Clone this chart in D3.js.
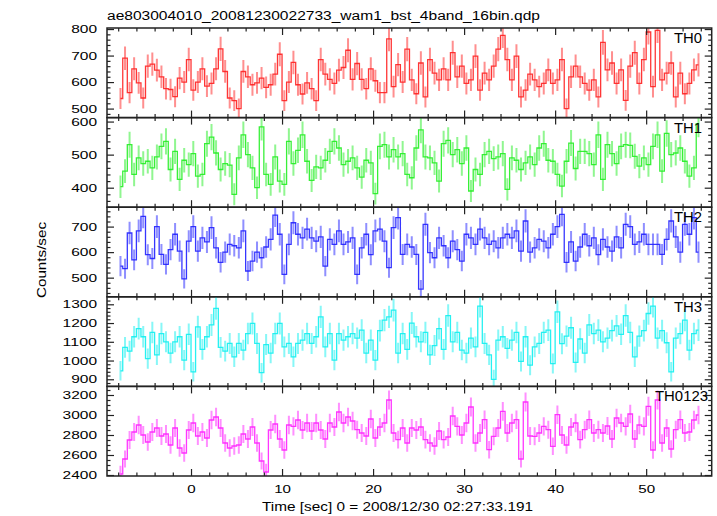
<!DOCTYPE html>
<html><head><meta charset="utf-8">
<script src="https://cdn.jsdelivr.net/npm/d3@7"></script>
<style>body{margin:0;background:#fff} svg{display:block}</style>
</head><body><svg id="c" width="717" height="516"></svg>
<script>
const title = "ae803004010_20081230022733_wam1_bst_4band_16bin.qdp";
const xLabel = "Time [sec] 0 = 2008/12/30 02:27:33.191";
const yLabel = "Counts/sec";
const tStart = -7.75, binWidth = 0.5;
const bandNames = ["TH0", "TH1", "TH2", "TH3", "TH0123"];
const bandColors = ["#ff2020", "#22ee22", "#2020ff", "#10f0f0", "#ff20ff"];

const th0 = [538,690,560,650,597,540,660,668,645,620,575,572,545,615,600,685,570,600,650,585,595,650,725,640,540,530,500,640,620,590,
597,615,580,590,630,705,530,600,674,590,555,597,575,530,685,630,610,595,645,655,720,610,670,
610,575,650,605,560,560,763,583,666,600,724,608,556,672,544,685,634,608,650,608,711,620,660,595,608,698,570,634,608,660,724,776,685,608,698,544,570,630,608,583,595,646,595,608,685,500,620,660,620,595,570,608,544,750,646,672,595,646,531,660,711,595,685,789,583,795,608,634,672,544,634,556,595,646,665];
const th1 = [403,450,530,440,490,473,480,460,493,525,540,455,510,425,483,470,503,435,440,533,553,505,455,473,468,380,490,560,500,460,400,584,440,410,493,420,410,540,473,513,560,480,422,463,460,483,510,540,520,470,480,490,460,432,483,475,382,525,530,493,515,493,503,440,
430,520,575,493,490,475,420,533,543,500,515,473,520,390,455,440,500,510,488,493,503,395,490,483,455,475,493,470,520,533,483,480,440,405,480,535,458,510,510,503,470,560,425,530,503,473,525,530,528,495,465,490,470,525,560,450,564,500,505,520,480,435,460,594];
const th2 = [545,535,675,570,683,740,590,575,700,591,552,610,670,604,495,643,700,604,656,640,696,617,560,600,630,625,617,683,526,565,600,578,620,650,745,670,513,630,715,670,656,690,656,643,660,545,650,630,683,630,640,656,513,617,670,590,683,690,643,539,696,735,591,630,
620,591,455,709,598,578,656,625,578,643,610,565,670,656,630,690,656,630,643,617,656,670,656,683,604,722,600,617,650,643,617,670,700,748,560,640,565,620,670,625,656,590,650,620,604,660,617,709,700,630,640,670,630,630,630,591,650,722,660,600,709,670,735,600];
const th3 = [945,1070,1050,1127,1170,1127,1010,1150,1030,1144,1100,1040,1100,1127,1002,1140,940,1180,1060,1127,1190,1278,1070,1050,1091,1020,1091,1056,1144,1198,1091,935,1085,1040,1144,1198,1073,1091,1020,1091,1109,1144,1091,1127,1233,1073,1144,1002,1144,1109,1127,1144,1120,1162,1040,1109,1002,1160,1216,1233,1269,1040,1144,1060,
1200,1127,1100,1150,1030,1080,1170,1060,1240,1100,1150,1056,1040,1120,1073,1290,1091,1030,900,1109,1127,1065,1109,1150,995,1127,975,1073,1091,1150,1162,984,1260,1090,1130,1175,990,1115,1040,1190,1144,1162,1100,1120,1160,1185,1140,1240,1150,1020,1130,1160,1251,1290,1120,1160,1095,940,1120,1144,1216,1056,1144,1162];
const th0123 = [2410,2560,2750,2830,2900,2800,2730,2830,2870,2790,2810,2700,2870,2670,2620,2850,2920,2790,2830,2770,2950,2980,2870,2720,2670,2690,2700,2810,2760,2880,2720,2540,2430,2850,2910,2760,2650,2900,2887,2950,2850,2920,2840,2920,2850,2760,2920,2880,3030,2920,2980,2940,2853,
2820,2790,2960,2770,2880,2920,3150,2820,2753,2870,2720,2870,2850,2880,2753,2720,2690,2840,2753,2780,2990,2887,2800,2920,3080,2720,2820,2953,2653,2787,2870,3037,2820,2920,2953,2560,3130,2790,2787,2820,2887,2853,2687,3003,2800,2700,2880,2920,2753,2853,2953,2820,2853,2820,2890,2760,2970,2920,2887,3010,2760,2900,2887,3087,2650,3150,2720,2870,2660,2853,2953,2820,2830,2950,3000];

const series = [th0, th1, th2, th3, th0123];
const yDomains = [[466, 804], [341, 612], [425, 776], [862, 1340], [2390, 3286]];
const yMajorTicks = [[500, 600, 700, 800], [400, 500, 600], [500, 600, 700], [900, 1000, 1100, 1200, 1300], [2400, 2600, 2800, 3000, 3200]];
const yMinorStep = [20, 20, 20, 20, 50];
const xMajorTicks = [0, 10, 20, 30, 40, 50];
const xMinorStep = 2;
const xDomain = [-9.23, 57.2];
const errScale = 1.2;

const plotLeft = 107, plotRight = 711.7, plotTop = 28, panelH = 89.6;
const frameColor = "#222";
const font = "'Liberation Sans', Arial, Helvetica, sans-serif";

const svg = d3.select("#c");
const x = d3.scaleLinear().domain(xDomain).range([plotLeft, plotRight]);
const tOf = i => tStart + binWidth * i;
const errOf = v => errScale * Math.sqrt(v * binWidth) / binWidth;

function stretch(sel, perChar) {
  sel.attr("textLength", function () { return this.textContent.length * perChar; })
     .attr("lengthAdjust", "spacingAndGlyphs");
}

const xMinor = d3.range(Math.ceil(xDomain[0] / xMinorStep) * xMinorStep, xDomain[1], xMinorStep).filter(v => !xMajorTicks.includes(v));

series.forEach((vals, k) => {
  const y0 = plotTop + k * panelH, y1 = y0 + panelH;
  const dom = yDomains[k];
  const y = d3.scaleLinear().domain(dom).range([y1, y0]);
  const color = bandColors[k];
  const g = svg.append("g");

  const clipId = "clip" + k;
  svg.append("clipPath").attr("id", clipId).append("rect")
    .attr("x", plotLeft).attr("y", y0).attr("width", plotRight - plotLeft).attr("height", panelH);

  const dg = g.append("g").attr("clip-path", `url(#${clipId})`);
  dg.selectAll("line.err").data(vals).join("line").attr("class", "err")
    .attr("x1", (d, i) => x(tOf(i))).attr("x2", (d, i) => x(tOf(i)))
    .attr("y1", d => y(d - errOf(d))).attr("y2", d => y(d + errOf(d)))
    .attr("stroke", color).attr("stroke-width", 2).attr("stroke-opacity", 0.5);
  const line = d3.line().x((d, i) => x(tOf(i))).y(d => y(d)).curve(d3.curveStep);
  dg.append("path").datum(vals).attr("d", line)
    .attr("fill", "none").attr("stroke", color).attr("stroke-width", 1.3).attr("stroke-opacity", 0.9);

  const yMinor = d3.range(Math.ceil(dom[0] / yMinorStep[k]) * yMinorStep[k], dom[1], yMinorStep[k])
    .filter(v => !yMajorTicks[k].includes(v));
  const axL = g.append("g").attr("transform", `translate(${plotLeft},0)`)
    .call(d3.axisLeft(y).tickValues(yMajorTicks[k]).tickFormat(d3.format("d")).tickSizeInner(-7).tickSizeOuter(0).tickPadding(10));
  g.append("g").attr("transform", `translate(${plotLeft},0)`)
    .call(d3.axisLeft(y).tickValues(yMinor).tickSizeInner(-3.5).tickSizeOuter(0).tickFormat(""));
  g.append("g").attr("transform", `translate(${plotRight},0)`)
    .call(d3.axisRight(y).tickValues(yMajorTicks[k]).tickSizeInner(-7).tickSizeOuter(0).tickFormat(""));
  g.append("g").attr("transform", `translate(${plotRight},0)`)
    .call(d3.axisRight(y).tickValues(yMinor).tickSizeInner(-3.5).tickSizeOuter(0).tickFormat(""));
  axL.selectAll("text").attr("font-size", 11.5).attr("font-family", font).attr("fill", "#000").call(stretch, 8.6);

  g.append("g").attr("transform", `translate(0,${y0})`)
    .call(d3.axisBottom(x).tickValues(xMajorTicks).tickSizeInner(7).tickSizeOuter(0).tickFormat(""));
  g.append("g").attr("transform", `translate(0,${y0})`)
    .call(d3.axisBottom(x).tickValues(xMinor).tickSizeInner(3.5).tickSizeOuter(0).tickFormat(""));
  const axB = g.append("g").attr("transform", `translate(0,${y1})`)
    .call(d3.axisBottom(x).tickValues(xMajorTicks).tickSizeInner(-7).tickSizeOuter(0).tickPadding(9)
      .tickFormat(k === series.length - 1 ? d3.format("d") : ""));
  g.append("g").attr("transform", `translate(0,${y1})`)
    .call(d3.axisBottom(x).tickValues(xMinor).tickSizeInner(-3.5).tickSizeOuter(0).tickFormat(""));
  axB.selectAll("text").attr("font-size", 11.5).attr("font-family", font).attr("fill", "#000").call(stretch, 8.4);

  g.selectAll(".domain").remove();
  g.selectAll(".tick line").attr("stroke", frameColor).attr("stroke-width", 1.2);

  g.append("rect").attr("x", plotLeft).attr("y", y0).attr("width", plotRight - plotLeft).attr("height", panelH)
    .attr("fill", "none").attr("stroke", frameColor).attr("stroke-width", 1.5);

  const name = bandNames[k];
  g.append("text").attr("x", name.length > 3 ? 655 : 674).attr("y", y0 + 15)
    .attr("font-size", 14.5).attr("font-family", font).attr("fill", "#000")
    .attr("textLength", name.length > 3 ? 53 : 28).attr("lengthAdjust", "spacingAndGlyphs")
    .text(name);
});

svg.append("text").attr("x", 107).attr("y", 19.5).attr("font-size", 12).attr("font-family", font)
  .attr("textLength", 433).attr("lengthAdjust", "spacingAndGlyphs").text(title);
svg.append("text").attr("x", 262).attr("y", 510.5).attr("font-size", 13).attr("font-family", font)
  .attr("textLength", 271).attr("lengthAdjust", "spacingAndGlyphs").text(xLabel);
svg.append("text").attr("transform", "translate(46,260) rotate(-90)").attr("text-anchor", "middle")
  .attr("font-size", 13).attr("font-family", font)
  .attr("textLength", 76).attr("lengthAdjust", "spacingAndGlyphs").text(yLabel);
</script></body></html>
